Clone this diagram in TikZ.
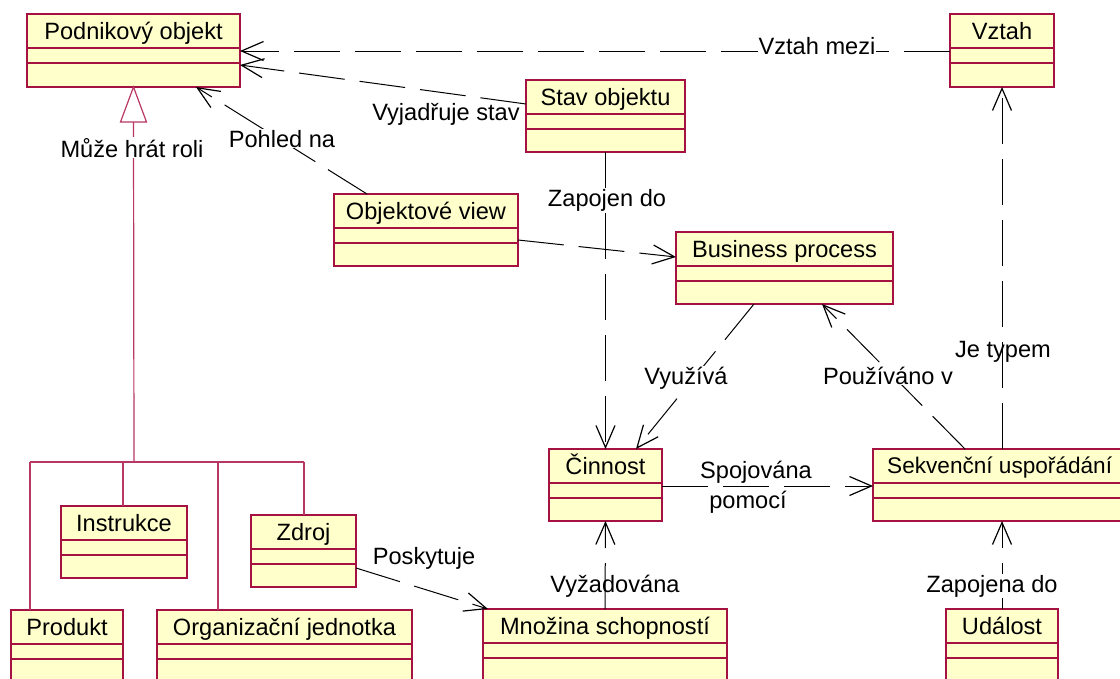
\documentclass[tikz,border=0pt]{standalone}
\usepackage{fontspec}
\setmainfont{Liberation Sans}
\usetikzlibrary{arrows.meta,calc}
\definecolor{classfill}{RGB}{255,255,204}
\definecolor{classedge}{RGB}{165,18,66}
\definecolor{treeedge}{RGB}{185,55,100}
\tikzset{
  classbox/.style={draw=classedge, fill=classfill, line width=1.1pt, inner sep=0pt, outer sep=0pt},
  classline/.style={draw=classedge, line width=1.1pt},
  classtitle/.style={inner sep=0pt, font=\fontsize{23.6}{28}\selectfont},
  lbl/.style={inner sep=0pt, font=\fontsize{23.6}{28}\selectfont},
  lblw/.style={lbl, fill=white, inner sep=1pt},
  dep/.style={draw=black, line width=1pt, dash pattern=on 46pt off 15pt,
    -{Straight Barb[length=22pt,width=19pt,line width=1.2pt]}},
  tree/.style={draw=treeedge, line width=1.2pt},
}
% class box: name, x1, y1, x2, y2, title
\newcommand\umlclass[6]{%
  \node[classbox, anchor=north west, minimum width={#4-#2}, minimum height={#5-#3}] (#1) at (#2,#3) {};
  \draw[classline] (#2,#3+34) -- (#4,#3+34);
  \draw[classline] (#2,#3+49) -- (#4,#3+49);
  \node[classtitle, anchor=base] at ({(#2+#4)/2},#3+25) {#6};
}
\begin{document}
\begin{tikzpicture}[x=1pt,y=-1pt]
\useasboundingbox (0,0) rectangle (1120,678);
\clip (0,0) rectangle (1120,678);
\fill[white] (0,0) rectangle (1120,678);

% classes
\umlclass{pod}{27}{14}{240}{87}{Podnikový objekt}
\umlclass{vztah}{950}{14}{1054}{87}{Vztah}
\umlclass{stav}{526}{80}{685}{152}{Stav objektu}
\umlclass{ov}{334}{194}{518}{266}{Objektové view}
\umlclass{bp}{676}{232}{893}{304}{Business process}
\umlclass{cin}{549}{449}{662}{521}{Činnost}
\node[classbox, anchor=north west, minimum width=280pt, minimum height=72pt] (sek) at (873,449) {};
\draw[classline] (873,483) -- (1153,483);
\draw[classline] (873,498) -- (1153,498);
\node[classtitle, anchor=base west, font=\fontsize{22.6}{27}\selectfont] at (887,473) {Sekvenční uspořádání};
\umlclass{instr}{61}{506}{187}{578}{Instrukce}
\umlclass{zdroj}{251}{515}{356}{587}{Zdroj}
\umlclass{prod}{11}{610}{123}{700}{Produkt}
\umlclass{org}{157}{610}{412}{700}{Organizační jednotka}
\umlclass{mno}{483}{609}{727}{700}{Množina schopností}
\umlclass{udal}{946}{609}{1058}{700}{Událost}

% generalization tree
\coordinate (jn) at (134,462);
\coordinate (jp) at (30,462);
\coordinate (ji) at (123,462);
\coordinate (jo) at (218,462);
\coordinate (jz) at (304,462);
\draw[tree] ($(pod.south)+(0,35)$) -- (jn);
\draw[tree, fill=white] (pod.south) -- ++(-13,35) -- ++(26,0) -- cycle;
\draw[tree] (jp) -- (jz);
\draw[tree] (jp) -- (prod.north -| jp);
\draw[tree] (ji) -- (instr.north -| ji);
\draw[tree] (jo) -- (org.north -| jo);
\draw[tree] (jz) -- (zdroj.north -| jz);
\node[lblw, anchor=base] at (132,157) {Může hrát roli};

% dependencies
\draw[dep] ($(vztah.north west)+(0,37)$) -- ($(pod.north east)+(0,37)$);
\node[lblw, anchor=base] at (817,54) {Vztah mezi};

\draw[dep] ($(stav.north west)+(0,24)$) -- ($(pod.north east)+(0,51)$);
\node[lbl, anchor=base] at (446,120) {Vyjadřuje stav};

\draw[dep] ($(ov.north west)+(33,0)$) -- ($(pod.south east)+(-44,0)$);
\node[lblw, anchor=base] at (282,147) {Pohled na};

\draw[dep] (stav.south) -- (cin.north);
\node[lblw, anchor=base] at (607,206) {Zapojen do};

\draw[dep] ($(ov.north east)+(0,46)$) -- ($(bp.north west)+(0,25)$);

\draw[dep] ($(bp.south west)+(78,0)$) -- ($(cin.north east)+(-26,0)$);
\node[lblw, anchor=base] at (686,384) {Využívá};

\draw[dep] ($(sek.north west)+(92,0)$) -- ($(bp.south west)+(146,0)$);
\node[lblw, anchor=base] at (888,384) {Používáno v};

\draw[dep] (sek.north -| vztah.south) -- (vztah.south);
\node[lbl, anchor=base] at (1003,357) {Je typem};

\draw[dep] ($(cin.north east)+(0,37)$) -- ($(sek.north west)+(0,37)$);
\node[lbl, anchor=base] at (756,478) {Spojována};
\node[lbl, anchor=base] at (748,508) {pomocí};

\draw[dep] (mno.north) -- (cin.south);
\node[lbl, anchor=base] at (615,592) {Vyžadována};

\draw[dep] ($(zdroj.north east)+(0,53)$) -- ($(mno.north west)+(5,0)$);
\node[lbl, anchor=base] at (424,564) {Poskytuje};

\draw[dep] (udal.north) -- (udal.north |- sek.south);
\node[lblw, anchor=base] at (992,592) {Zapojena do};
\end{tikzpicture}
\end{document}
